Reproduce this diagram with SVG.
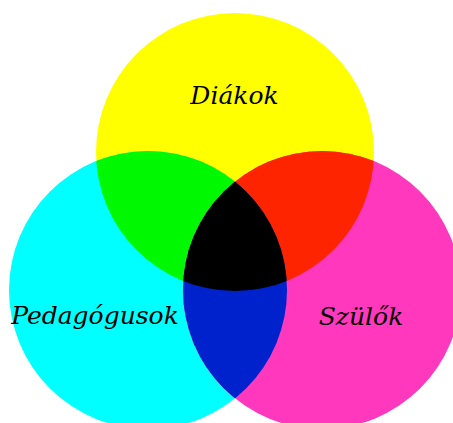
<svg xmlns="http://www.w3.org/2000/svg" width="453" height="423" viewBox="0 0 453 423">
<style>
.lbl{font-family:"DejaVu Serif","Liberation Serif",serif;font-style:italic;font-size:25px;fill:#000;text-anchor:middle}
</style>
<defs>
<clipPath id="cY"><circle cx="235" cy="152" r="139"/></clipPath>
<clipPath id="cC"><circle cx="148" cy="290" r="139"/></clipPath>
<clipPath id="cM"><circle cx="322" cy="290" r="139"/></clipPath>
</defs>
<rect width="453" height="423" fill="#fff"/>
<g id="diakok">
<circle cx="235" cy="152" r="139" fill="#ffff00"/>
</g>
<g id="pedagogusok">
<circle cx="148" cy="290" r="139" fill="#00ffff"/>
</g>
<g id="szulok">
<circle cx="322" cy="290" r="139" fill="#ff38be"/>
</g>
<g id="overlaps">
<g clip-path="url(#cY)"><circle cx="148" cy="290" r="139" fill="#00f800"/></g>
<g clip-path="url(#cY)"><circle cx="322" cy="290" r="139" fill="#ff2400"/></g>
<g clip-path="url(#cC)"><circle cx="322" cy="290" r="139" fill="#0022cc"/></g>
<g clip-path="url(#cY)"><g clip-path="url(#cC)"><circle cx="322" cy="290" r="139" fill="#000"/></g></g>
</g>
<g id="connectors"></g>
<g id="labels">
<text class="lbl" x="234.5" y="104">Diákok</text>
<text class="lbl" x="95" y="324">Pedagógusok</text>
<text class="lbl" x="361" y="325">Szülők</text>
</g>
</svg>
